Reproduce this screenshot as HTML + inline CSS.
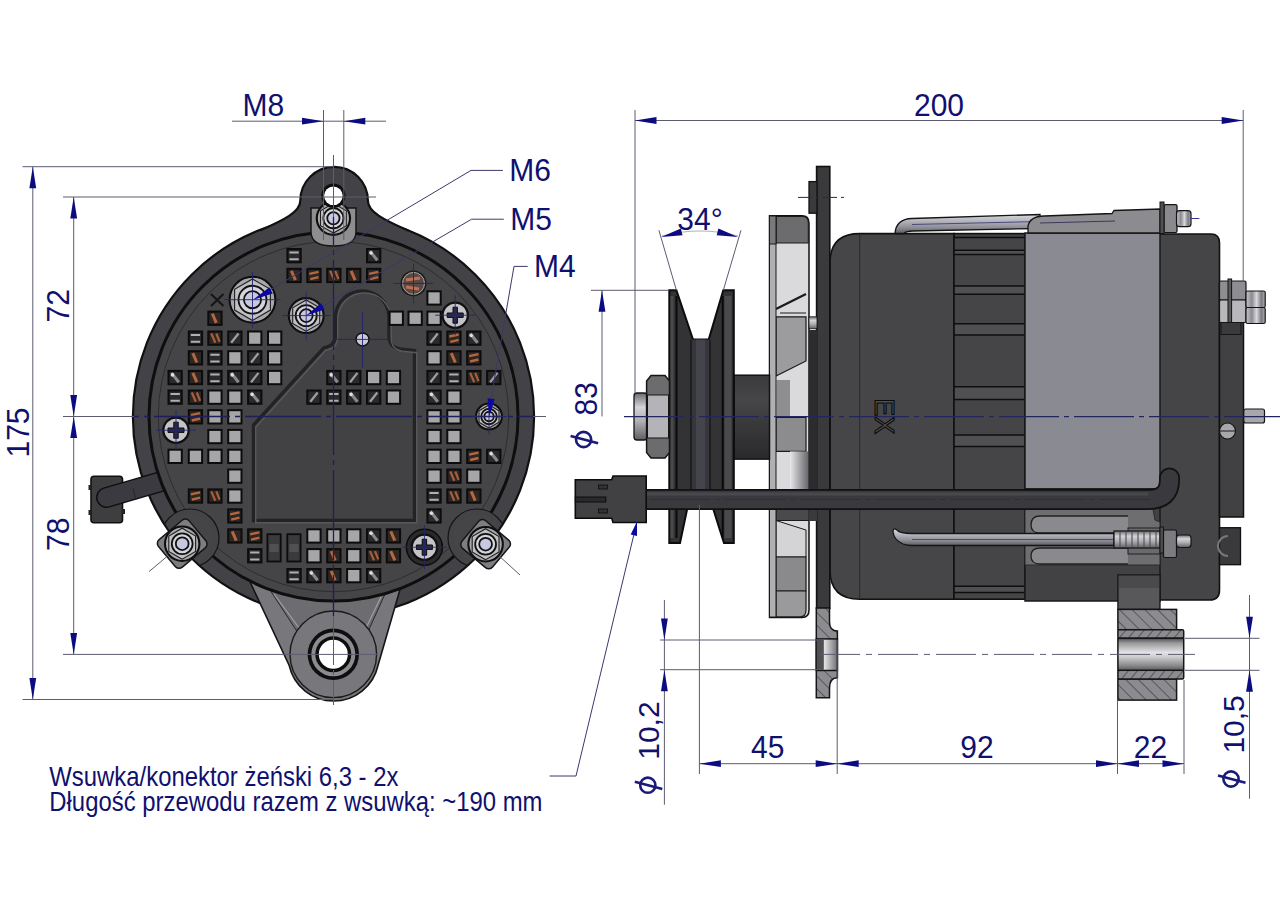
<!DOCTYPE html>
<html><head><meta charset="utf-8"><title>Alternator drawing</title>
<style>
html,body{margin:0;padding:0;background:#fff;}
body{width:1280px;height:905px;overflow:hidden;}
svg{display:block;font-family:"Liberation Sans",sans-serif;}
</style></head>
<body>
<svg width="1280" height="905" viewBox="0 0 1280 905">
<defs>
<clipPath id="discclip"><circle cx="333.5" cy="416.5" r="199.5"/></clipPath>
<pattern id="hatchA" patternUnits="userSpaceOnUse" width="9" height="9" patternTransform="rotate(-45)">
<rect width="9" height="9" fill="#8c8c90"/><line x1="0" y1="0" x2="0" y2="9" stroke="#333" stroke-width="1.2"/></pattern>
<pattern id="hatchB" patternUnits="userSpaceOnUse" width="7" height="7" patternTransform="rotate(40)">
<rect width="7" height="7" fill="#8c8c90"/><line x1="0" y1="0" x2="0" y2="7" stroke="#333" stroke-width="1.2"/></pattern>
<linearGradient id="bore" x1="0" y1="0" x2="0" y2="1">
<stop offset="0" stop-color="#505052"/><stop offset="0.15" stop-color="#9a9a9c"/><stop offset="0.45" stop-color="#e4e4e6"/>
<stop offset="0.6" stop-color="#c8c8ca"/><stop offset="0.85" stop-color="#8a8a8c"/><stop offset="1" stop-color="#5a5a5c"/></linearGradient>
<linearGradient id="rod" x1="0" y1="0" x2="0" y2="1">
<stop offset="0" stop-color="#d8d8de"/><stop offset="0.35" stop-color="#b4b4bc"/><stop offset="0.7" stop-color="#8c8c94"/><stop offset="1" stop-color="#5c5c62"/></linearGradient>
<linearGradient id="bolt" x1="0" y1="0" x2="0" y2="1">
<stop offset="0" stop-color="#6c6c70"/><stop offset="0.3" stop-color="#d4d4d8"/><stop offset="0.6" stop-color="#b0b0b4"/><stop offset="1" stop-color="#606064"/></linearGradient>
<linearGradient id="hub" x1="0" y1="0" x2="0" y2="1">
<stop offset="0" stop-color="#3a3a3c"/><stop offset="0.3" stop-color="#474749"/><stop offset="0.55" stop-color="#3a3a3c"/><stop offset="1" stop-color="#2a2a2c"/></linearGradient>
<linearGradient id="fanbar" x1="0" y1="0" x2="1" y2="0">
<stop offset="0" stop-color="#e8e8ea"/><stop offset="0.5" stop-color="#a8a8ac"/><stop offset="1" stop-color="#6a6a6e"/></linearGradient>
<linearGradient id="stud" x1="0" y1="0" x2="1" y2="0">
<stop offset="0" stop-color="#c8c8cc"/><stop offset="0.3" stop-color="#8a8a90"/><stop offset="0.55" stop-color="#d8d8dc"/><stop offset="0.8" stop-color="#7a7a80"/><stop offset="1" stop-color="#b0b0b4"/></linearGradient>
<linearGradient id="bore2" x1="0" y1="0" x2="1" y2="0">
<stop offset="0" stop-color="#a0a0a2"/><stop offset="0.4" stop-color="#e0e0e2"/><stop offset="1" stop-color="#707072"/></linearGradient>
</defs>
<rect x="0" y="0" width="1280" height="905" fill="#ffffff"/>
<circle cx="333.5" cy="416.5" r="200.6" fill="#434347" stroke="#111" stroke-width="2.2" />
<path d="M 260,230.5 C 284,220 300.3,212 300.3,200.7 A 33.8 33.8 0 0 1 367.9,200.7 C 367.9,212 384,220 408,230.5 L 380,250 L 288,250 Z" fill="#434347" stroke="none" stroke-width="1" />
<path d="M 260,230.5 C 284,220 300.3,212 300.3,200.7 A 33.8 33.8 0 0 1 367.9,200.7 C 367.9,212 384,220 408,230.5" fill="none" stroke="#111" stroke-width="2.2" />
<rect x="91" y="476.2" width="31.5" height="46.5" rx="3" fill="#3e3e40" stroke="#111" stroke-width="1.6" />
<rect x="88.5" y="485" width="3" height="5" rx="0" fill="#222" stroke="none" stroke-width="1" />
<rect x="88.5" y="510" width="3" height="5" rx="0" fill="#222" stroke="none" stroke-width="1" />
<rect x="122" y="509" width="3" height="5" rx="0" fill="#222" stroke="none" stroke-width="1" />
<path d="M 106.5,497.5 L 180,476" fill="none" stroke="#0e0e0e" stroke-width="21" stroke-linecap="round"/>
<path d="M 106.5,497.5 L 180,476" fill="none" stroke="#3a3a40" stroke-width="18" stroke-linecap="round"/>
<path d="M 133,488.5 L 136,500" fill="none" stroke="#222" stroke-width="0.8" />
<path d="M 250.4,582.7 L 289.2,665.5 A 45.5 45.5 0 0 0 378,665.5 L 399.6,590.9 L 399.6,560 L 250.4,560 Z" fill="#77777c" stroke="#151515" stroke-width="1.6" />
<path d="M 270,590 L 300,636 L 366,636 L 385,594 Z" fill="#6c6c71" stroke="#2a2a2a" stroke-width="1" />
<path d="M 274,594 L 302,632" fill="none" stroke="#a0a0a4" stroke-width="1.2" />
<path d="M 381,597 L 364,632" fill="none" stroke="#a0a0a4" stroke-width="1.2" />
<circle cx="333.3" cy="654.3" r="43.3" fill="#77777c" stroke="#1a1a1a" stroke-width="1.4" />
<circle cx="333.3" cy="654.3" r="25.7" fill="#0e0e0e" stroke="none" stroke-width="1" />
<circle cx="333.3" cy="654.3" r="22.0" fill="#8c8c90" stroke="none" stroke-width="1" />
<circle cx="333.3" cy="654.3" r="18.0" fill="#0e0e0e" stroke="none" stroke-width="1" />
<circle cx="333.3" cy="654.3" r="14.5" fill="#ffffff" stroke="none" stroke-width="1" />
<circle cx="333.5" cy="416.5" r="184.5" fill="#454547" stroke="#0e0e0e" stroke-width="3" />
<circle cx="333.5" cy="416.5" r="175.2" fill="none" stroke="#2a2a2c" stroke-width="0.9" />
<g clip-path="url(#discclip)">
<circle cx="190" cy="538" r="29" fill="#444448" stroke="#151515" stroke-width="1.2" />
<circle cx="190" cy="538" r="24" fill="#454547" stroke="none" stroke-width="1" />
<circle cx="477" cy="538" r="29" fill="#444448" stroke="#151515" stroke-width="1.2" />
<circle cx="477" cy="538" r="24" fill="#454547" stroke="none" stroke-width="1" />
</g>
<path d="M 253.5,520.5 L 253.5,425 L 323.6,348 Q 335.5,346 335.5,335 L 335.5,316 A 26.8 26.8 0 0 1 389,316 L 389,336 Q 389,347 400,349 L 414.5,350.5 L 414.5,520.5 Z" fill="#424244" stroke="#232325" stroke-width="3.4" />
<path d="M 253.5,520.5 L 253.5,425 L 323.6,348 Q 335.5,346 335.5,335 L 335.5,316 A 26.8 26.8 0 0 1 389,316 L 389,336 Q 389,347 400,349 L 414.5,350.5 L 414.5,520.5 Z" fill="none" stroke="#58585c" stroke-width="1.4" transform="translate(2.2,2.2)"/>
<circle cx="362.5" cy="339.4" r="6.5" fill="#c8c8d8" stroke="#111" stroke-width="1.5" />
<rect x="287.4" y="249.0" width="13.3" height="13.3" rx="0" fill="#2a2a2c" stroke="#0c0c0c" stroke-width="2" />
<path d="M 289.4,252.5 L 298.7,252.5 M 289.4,259.3 L 298.7,259.3" stroke="#b0b0b2" stroke-width="2"/>
<rect x="367.0" y="249.0" width="13.3" height="13.3" rx="0" fill="#2a2a2c" stroke="#0c0c0c" stroke-width="2" />
<path d="M 370.0,251.0 L 377.3,260.3" stroke="#8a8a8c" stroke-width="3"/>
<circle cx="371.0" cy="253.0" r="1.8" fill="#e0e0e0"/>
<rect x="287.4" y="268.8" width="13.3" height="13.3" rx="0" fill="#2c2624" stroke="#0c0c0c" stroke-width="2" />
<path d="M 291.4,270.8 L 295.4,280.1" stroke="#b4683f" stroke-width="3"/>
<rect x="307.3" y="268.8" width="13.3" height="13.3" rx="0" fill="#2c2624" stroke="#0c0c0c" stroke-width="2" />
<path d="M 309.3,273.8 L 318.6,271.8 M 310.3,279.1 L 318.6,277.1" stroke="#b4683f" stroke-width="2.4"/>
<rect x="327.2" y="268.8" width="13.3" height="13.3" rx="0" fill="#2c2624" stroke="#0c0c0c" stroke-width="2" />
<path d="M 330.2,270.8 L 334.2,280.1 M 335.2,270.8 L 338.5,279.1" stroke="#a8603c" stroke-width="2.2"/>
<rect x="347.1" y="268.8" width="13.3" height="13.3" rx="0" fill="#2c2624" stroke="#0c0c0c" stroke-width="2" />
<path d="M 351.1,270.8 L 355.1,280.1" stroke="#b4683f" stroke-width="3"/>
<rect x="367.0" y="268.8" width="13.3" height="13.3" rx="0" fill="#2c2624" stroke="#0c0c0c" stroke-width="2" />
<path d="M 369.0,273.8 L 378.3,271.8 M 370.0,279.1 L 378.3,277.1" stroke="#b4683f" stroke-width="2.4"/>
<rect x="427.4" y="291.3" width="13.3" height="13.3" rx="0" fill="#a6a6a8" stroke="#0c0c0c" stroke-width="2" />
<rect x="208.3" y="311.6" width="13.3" height="13.3" rx="0" fill="#2c2624" stroke="#0c0c0c" stroke-width="2" />
<path d="M 212.3,313.6 L 216.3,322.90000000000003" stroke="#b4683f" stroke-width="3"/>
<rect x="389.6" y="311.6" width="13.3" height="13.3" rx="0" fill="#a6a6a8" stroke="#0c0c0c" stroke-width="2" />
<rect x="408.5" y="311.6" width="13.3" height="13.3" rx="0" fill="#a6a6a8" stroke="#0c0c0c" stroke-width="2" />
<rect x="427.4" y="311.6" width="13.3" height="13.3" rx="0" fill="#a6a6a8" stroke="#0c0c0c" stroke-width="2" />
<rect x="188.8" y="331.5" width="13.3" height="13.3" rx="0" fill="#2a2a2c" stroke="#0c0c0c" stroke-width="2" />
<path d="M 190.8,335.0 L 200.10000000000002,335.0 M 190.8,341.8 L 200.10000000000002,341.8" stroke="#b0b0b2" stroke-width="2"/>
<rect x="208.3" y="331.5" width="13.3" height="13.3" rx="0" fill="#2c2624" stroke="#0c0c0c" stroke-width="2" />
<path d="M 211.3,333.5 L 215.3,342.8 M 216.3,333.5 L 219.60000000000002,341.8" stroke="#a8603c" stroke-width="2.2"/>
<rect x="228.2" y="331.5" width="13.3" height="13.3" rx="0" fill="#2a2a2c" stroke="#0c0c0c" stroke-width="2" />
<path d="M 231.2,342.8 L 238.5,333.5" stroke="#a0a0a2" stroke-width="2.2"/>
<rect x="248.1" y="331.5" width="13.3" height="13.3" rx="0" fill="#a6a6a8" stroke="#0c0c0c" stroke-width="2" />
<rect x="268.0" y="331.5" width="13.3" height="13.3" rx="0" fill="#a6a6a8" stroke="#0c0c0c" stroke-width="2" />
<rect x="427.4" y="331.5" width="13.3" height="13.3" rx="0" fill="#2a2a2c" stroke="#0c0c0c" stroke-width="2" />
<path d="M 430.4,342.8 L 437.7,333.5" stroke="#a0a0a2" stroke-width="2.2"/>
<rect x="447.3" y="331.5" width="13.3" height="13.3" rx="0" fill="#2c2624" stroke="#0c0c0c" stroke-width="2" />
<path d="M 449.3,336.5 L 458.6,334.5 M 450.3,341.8 L 458.6,339.8" stroke="#b4683f" stroke-width="2.4"/>
<rect x="467.2" y="331.5" width="13.3" height="13.3" rx="0" fill="#2a2a2c" stroke="#0c0c0c" stroke-width="2" />
<path d="M 470.2,333.5 L 477.5,342.8" stroke="#8a8a8c" stroke-width="3"/>
<circle cx="471.2" cy="335.5" r="1.8" fill="#e0e0e0"/>
<rect x="188.8" y="351.2" width="13.3" height="13.3" rx="0" fill="#2c2624" stroke="#0c0c0c" stroke-width="2" />
<path d="M 192.8,353.2 L 196.8,362.5" stroke="#b4683f" stroke-width="3"/>
<rect x="208.3" y="351.2" width="13.3" height="13.3" rx="0" fill="#2a2a2c" stroke="#0c0c0c" stroke-width="2" />
<path d="M 210.3,354.7 L 219.60000000000002,354.7 M 210.3,361.5 L 219.60000000000002,361.5" stroke="#b0b0b2" stroke-width="2"/>
<rect x="228.2" y="351.2" width="13.3" height="13.3" rx="0" fill="#a6a6a8" stroke="#0c0c0c" stroke-width="2" />
<rect x="248.1" y="351.2" width="13.3" height="13.3" rx="0" fill="#2a2a2c" stroke="#0c0c0c" stroke-width="2" />
<path d="M 251.1,362.5 L 258.4,353.2" stroke="#a0a0a2" stroke-width="2.2"/>
<rect x="268.0" y="351.2" width="13.3" height="13.3" rx="0" fill="#a6a6a8" stroke="#0c0c0c" stroke-width="2" />
<rect x="427.4" y="351.2" width="13.3" height="13.3" rx="0" fill="#a6a6a8" stroke="#0c0c0c" stroke-width="2" />
<rect x="447.3" y="351.2" width="13.3" height="13.3" rx="0" fill="#2c2624" stroke="#0c0c0c" stroke-width="2" />
<path d="M 451.3,353.2 L 455.3,362.5" stroke="#b4683f" stroke-width="3"/>
<rect x="467.2" y="351.2" width="13.3" height="13.3" rx="0" fill="#2c2624" stroke="#0c0c0c" stroke-width="2" />
<path d="M 469.2,356.2 L 478.5,354.2 M 470.2,361.5 L 478.5,359.5" stroke="#b4683f" stroke-width="2.4"/>
<rect x="168.5" y="370.9" width="13.3" height="13.3" rx="0" fill="#2a2a2c" stroke="#0c0c0c" stroke-width="2" />
<path d="M 171.5,372.9 L 178.8,382.2" stroke="#8a8a8c" stroke-width="3"/>
<circle cx="172.5" cy="374.9" r="1.8" fill="#e0e0e0"/>
<rect x="188.8" y="370.9" width="13.3" height="13.3" rx="0" fill="#2c2624" stroke="#0c0c0c" stroke-width="2" />
<path d="M 192.8,372.9 L 196.8,382.2" stroke="#b4683f" stroke-width="3"/>
<rect x="208.3" y="370.9" width="13.3" height="13.3" rx="0" fill="#2a2a2c" stroke="#0c0c0c" stroke-width="2" />
<path d="M 210.3,374.4 L 219.60000000000002,374.4 M 210.3,381.2 L 219.60000000000002,381.2" stroke="#b0b0b2" stroke-width="2"/>
<rect x="228.2" y="370.9" width="13.3" height="13.3" rx="0" fill="#2a2a2c" stroke="#0c0c0c" stroke-width="2" />
<path d="M 231.2,372.9 L 238.5,382.2" stroke="#8a8a8c" stroke-width="3"/>
<circle cx="232.2" cy="374.9" r="1.8" fill="#e0e0e0"/>
<rect x="248.1" y="370.9" width="13.3" height="13.3" rx="0" fill="#2a2a2c" stroke="#0c0c0c" stroke-width="2" />
<path d="M 251.1,382.2 L 258.4,372.9" stroke="#a0a0a2" stroke-width="2.2"/>
<rect x="268.0" y="370.9" width="13.3" height="13.3" rx="0" fill="#a6a6a8" stroke="#0c0c0c" stroke-width="2" />
<rect x="327.2" y="370.9" width="13.3" height="13.3" rx="0" fill="#2a2a2c" stroke="#0c0c0c" stroke-width="2" />
<path d="M 330.2,372.9 L 337.5,382.2" stroke="#8a8a8c" stroke-width="3"/>
<circle cx="331.2" cy="374.9" r="1.8" fill="#e0e0e0"/>
<rect x="347.1" y="370.9" width="13.3" height="13.3" rx="0" fill="#2a2a2c" stroke="#0c0c0c" stroke-width="2" />
<path d="M 350.1,382.2 L 357.40000000000003,372.9" stroke="#a0a0a2" stroke-width="2.2"/>
<rect x="367.0" y="370.9" width="13.3" height="13.3" rx="0" fill="#a6a6a8" stroke="#0c0c0c" stroke-width="2" />
<rect x="386.8" y="370.9" width="13.3" height="13.3" rx="0" fill="#a6a6a8" stroke="#0c0c0c" stroke-width="2" />
<rect x="427.4" y="370.9" width="13.3" height="13.3" rx="0" fill="#2a2a2c" stroke="#0c0c0c" stroke-width="2" />
<path d="M 430.4,382.2 L 437.7,372.9" stroke="#a0a0a2" stroke-width="2.2"/>
<rect x="447.3" y="370.9" width="13.3" height="13.3" rx="0" fill="#2a2a2c" stroke="#0c0c0c" stroke-width="2" />
<path d="M 449.3,374.4 L 458.6,374.4 M 449.3,381.2 L 458.6,381.2" stroke="#b0b0b2" stroke-width="2"/>
<rect x="467.2" y="370.9" width="13.3" height="13.3" rx="0" fill="#2c2624" stroke="#0c0c0c" stroke-width="2" />
<path d="M 470.2,372.9 L 474.2,382.2 M 475.2,372.9 L 478.5,381.2" stroke="#a8603c" stroke-width="2.2"/>
<rect x="487.1" y="370.9" width="13.3" height="13.3" rx="0" fill="#2a2a2c" stroke="#0c0c0c" stroke-width="2" />
<path d="M 490.1,382.2 L 497.40000000000003,372.9" stroke="#a0a0a2" stroke-width="2.2"/>
<rect x="168.5" y="390.5" width="13.3" height="13.3" rx="0" fill="#2a2a2c" stroke="#0c0c0c" stroke-width="2" />
<path d="M 170.5,394.0 L 179.8,394.0 M 170.5,400.8 L 179.8,400.8" stroke="#b0b0b2" stroke-width="2"/>
<rect x="188.8" y="390.5" width="13.3" height="13.3" rx="0" fill="#2c2624" stroke="#0c0c0c" stroke-width="2" />
<path d="M 191.8,392.5 L 195.8,401.8 M 196.8,392.5 L 200.10000000000002,400.8" stroke="#a8603c" stroke-width="2.2"/>
<rect x="208.3" y="390.5" width="13.3" height="13.3" rx="0" fill="#a6a6a8" stroke="#0c0c0c" stroke-width="2" />
<rect x="228.2" y="390.5" width="13.3" height="13.3" rx="0" fill="#a6a6a8" stroke="#0c0c0c" stroke-width="2" />
<rect x="248.1" y="390.5" width="13.3" height="13.3" rx="0" fill="#2a2a2c" stroke="#0c0c0c" stroke-width="2" />
<path d="M 251.1,392.5 L 258.4,401.8" stroke="#8a8a8c" stroke-width="3"/>
<circle cx="252.1" cy="394.5" r="1.8" fill="#e0e0e0"/>
<rect x="307.3" y="390.5" width="13.3" height="13.3" rx="0" fill="#2a2a2c" stroke="#0c0c0c" stroke-width="2" />
<path d="M 310.3,401.8 L 317.6,392.5" stroke="#a0a0a2" stroke-width="2.2"/>
<rect x="327.2" y="390.5" width="13.3" height="13.3" rx="0" fill="#2a2a2c" stroke="#0c0c0c" stroke-width="2" />
<path d="M 329.2,394.0 L 338.5,394.0 M 329.2,400.8 L 338.5,400.8" stroke="#b0b0b2" stroke-width="2"/>
<rect x="347.1" y="390.5" width="13.3" height="13.3" rx="0" fill="#2a2a2c" stroke="#0c0c0c" stroke-width="2" />
<path d="M 350.1,392.5 L 357.40000000000003,401.8" stroke="#8a8a8c" stroke-width="3"/>
<circle cx="351.1" cy="394.5" r="1.8" fill="#e0e0e0"/>
<rect x="367.0" y="390.5" width="13.3" height="13.3" rx="0" fill="#2a2a2c" stroke="#0c0c0c" stroke-width="2" />
<path d="M 370.0,401.8 L 377.3,392.5" stroke="#a0a0a2" stroke-width="2.2"/>
<rect x="386.8" y="390.5" width="13.3" height="13.3" rx="0" fill="#a6a6a8" stroke="#0c0c0c" stroke-width="2" />
<rect x="427.4" y="390.5" width="13.3" height="13.3" rx="0" fill="#2a2a2c" stroke="#0c0c0c" stroke-width="2" />
<path d="M 430.4,392.5 L 437.7,401.8" stroke="#8a8a8c" stroke-width="3"/>
<circle cx="431.4" cy="394.5" r="1.8" fill="#e0e0e0"/>
<rect x="447.3" y="390.5" width="13.3" height="13.3" rx="0" fill="#a6a6a8" stroke="#0c0c0c" stroke-width="2" />
<rect x="188.8" y="410.2" width="13.3" height="13.3" rx="0" fill="#2c2624" stroke="#0c0c0c" stroke-width="2" />
<path d="M 190.8,415.2 L 200.10000000000002,413.2 M 191.8,420.5 L 200.10000000000002,418.5" stroke="#b4683f" stroke-width="2.4"/>
<rect x="208.3" y="410.2" width="13.3" height="13.3" rx="0" fill="#a6a6a8" stroke="#0c0c0c" stroke-width="2" />
<rect x="228.2" y="410.2" width="13.3" height="13.3" rx="0" fill="#a6a6a8" stroke="#0c0c0c" stroke-width="2" />
<rect x="427.4" y="410.2" width="13.3" height="13.3" rx="0" fill="#a6a6a8" stroke="#0c0c0c" stroke-width="2" />
<rect x="447.3" y="410.2" width="13.3" height="13.3" rx="0" fill="#a6a6a8" stroke="#0c0c0c" stroke-width="2" />
<rect x="208.3" y="429.9" width="13.3" height="13.3" rx="0" fill="#a6a6a8" stroke="#0c0c0c" stroke-width="2" />
<rect x="228.2" y="429.9" width="13.3" height="13.3" rx="0" fill="#a6a6a8" stroke="#0c0c0c" stroke-width="2" />
<rect x="427.4" y="429.9" width="13.3" height="13.3" rx="0" fill="#a6a6a8" stroke="#0c0c0c" stroke-width="2" />
<rect x="447.3" y="429.9" width="13.3" height="13.3" rx="0" fill="#a6a6a8" stroke="#0c0c0c" stroke-width="2" />
<rect x="168.5" y="449.7" width="13.3" height="13.3" rx="0" fill="#a6a6a8" stroke="#0c0c0c" stroke-width="2" />
<rect x="188.8" y="449.7" width="13.3" height="13.3" rx="0" fill="#a6a6a8" stroke="#0c0c0c" stroke-width="2" />
<rect x="208.3" y="449.7" width="13.3" height="13.3" rx="0" fill="#a6a6a8" stroke="#0c0c0c" stroke-width="2" />
<rect x="228.2" y="449.7" width="13.3" height="13.3" rx="0" fill="#a6a6a8" stroke="#0c0c0c" stroke-width="2" />
<rect x="427.4" y="449.7" width="13.3" height="13.3" rx="0" fill="#a6a6a8" stroke="#0c0c0c" stroke-width="2" />
<rect x="447.3" y="449.7" width="13.3" height="13.3" rx="0" fill="#a6a6a8" stroke="#0c0c0c" stroke-width="2" />
<rect x="467.2" y="449.7" width="13.3" height="13.3" rx="0" fill="#2c2624" stroke="#0c0c0c" stroke-width="2" />
<path d="M 469.2,454.7 L 478.5,452.7 M 470.2,460.0 L 478.5,458.0" stroke="#b4683f" stroke-width="2.4"/>
<rect x="487.1" y="449.7" width="13.3" height="13.3" rx="0" fill="#2a2a2c" stroke="#0c0c0c" stroke-width="2" />
<path d="M 490.1,451.7 L 497.40000000000003,461.0" stroke="#8a8a8c" stroke-width="3"/>
<circle cx="491.1" cy="453.7" r="1.8" fill="#e0e0e0"/>
<rect x="228.2" y="469.5" width="13.3" height="13.3" rx="0" fill="#a6a6a8" stroke="#0c0c0c" stroke-width="2" />
<rect x="427.4" y="469.5" width="13.3" height="13.3" rx="0" fill="#a6a6a8" stroke="#0c0c0c" stroke-width="2" />
<rect x="447.3" y="469.5" width="13.3" height="13.3" rx="0" fill="#2c2624" stroke="#0c0c0c" stroke-width="2" />
<path d="M 450.3,471.5 L 454.3,480.8 M 455.3,471.5 L 458.6,479.8" stroke="#a8603c" stroke-width="2.2"/>
<rect x="467.2" y="469.5" width="13.3" height="13.3" rx="0" fill="#a6a6a8" stroke="#0c0c0c" stroke-width="2" />
<rect x="188.8" y="489.4" width="13.3" height="13.3" rx="0" fill="#2c2624" stroke="#0c0c0c" stroke-width="2" />
<path d="M 190.8,494.4 L 200.10000000000002,492.4 M 191.8,499.7 L 200.10000000000002,497.7" stroke="#b4683f" stroke-width="2.4"/>
<rect x="208.3" y="489.4" width="13.3" height="13.3" rx="0" fill="#2c2624" stroke="#0c0c0c" stroke-width="2" />
<path d="M 211.3,491.4 L 215.3,500.7 M 216.3,491.4 L 219.60000000000002,499.7" stroke="#a8603c" stroke-width="2.2"/>
<rect x="228.2" y="489.4" width="13.3" height="13.3" rx="0" fill="#a6a6a8" stroke="#0c0c0c" stroke-width="2" />
<rect x="427.4" y="489.4" width="13.3" height="13.3" rx="0" fill="#2a2a2c" stroke="#0c0c0c" stroke-width="2" />
<path d="M 429.4,492.9 L 438.7,492.9 M 429.4,499.7 L 438.7,499.7" stroke="#b0b0b2" stroke-width="2"/>
<rect x="447.3" y="489.4" width="13.3" height="13.3" rx="0" fill="#2c2624" stroke="#0c0c0c" stroke-width="2" />
<path d="M 450.3,491.4 L 454.3,500.7 M 455.3,491.4 L 458.6,499.7" stroke="#a8603c" stroke-width="2.2"/>
<rect x="467.2" y="489.4" width="13.3" height="13.3" rx="0" fill="#2c2624" stroke="#0c0c0c" stroke-width="2" />
<path d="M 471.2,491.4 L 475.2,500.7" stroke="#b4683f" stroke-width="3"/>
<rect x="228.2" y="509.3" width="13.3" height="13.3" rx="0" fill="#2c2624" stroke="#0c0c0c" stroke-width="2" />
<path d="M 230.2,514.3 L 239.5,512.3 M 231.2,519.6 L 239.5,517.6" stroke="#b4683f" stroke-width="2.4"/>
<rect x="427.4" y="509.3" width="13.3" height="13.3" rx="0" fill="#2a2a2c" stroke="#0c0c0c" stroke-width="2" />
<path d="M 430.4,511.3 L 437.7,520.6" stroke="#8a8a8c" stroke-width="3"/>
<circle cx="431.4" cy="513.3" r="1.8" fill="#e0e0e0"/>
<rect x="228.2" y="529.3" width="13.3" height="13.3" rx="0" fill="#2c2624" stroke="#0c0c0c" stroke-width="2" />
<path d="M 232.2,531.3 L 236.2,540.5999999999999" stroke="#b4683f" stroke-width="3"/>
<rect x="248.1" y="529.3" width="13.3" height="13.3" rx="0" fill="#2c2624" stroke="#0c0c0c" stroke-width="2" />
<path d="M 250.1,534.3 L 259.4,532.3 M 251.1,539.5999999999999 L 259.4,537.5999999999999" stroke="#b4683f" stroke-width="2.4"/>
<rect x="307.3" y="529.3" width="13.3" height="13.3" rx="0" fill="#a6a6a8" stroke="#0c0c0c" stroke-width="2" />
<rect x="327.2" y="529.3" width="13.3" height="13.3" rx="0" fill="#a6a6a8" stroke="#0c0c0c" stroke-width="2" />
<rect x="347.1" y="529.3" width="13.3" height="13.3" rx="0" fill="#a6a6a8" stroke="#0c0c0c" stroke-width="2" />
<rect x="367.0" y="529.3" width="13.3" height="13.3" rx="0" fill="#2a2a2c" stroke="#0c0c0c" stroke-width="2" />
<path d="M 370.0,531.3 L 377.3,540.5999999999999" stroke="#8a8a8c" stroke-width="3"/>
<circle cx="371.0" cy="533.3" r="1.8" fill="#e0e0e0"/>
<rect x="386.8" y="529.3" width="13.3" height="13.3" rx="0" fill="#2c2624" stroke="#0c0c0c" stroke-width="2" />
<path d="M 390.8,531.3 L 394.8,540.5999999999999" stroke="#b4683f" stroke-width="3"/>
<rect x="248.1" y="549.1" width="13.3" height="13.3" rx="0" fill="#2a2a2c" stroke="#0c0c0c" stroke-width="2" />
<path d="M 250.1,552.6 L 259.4,552.6 M 250.1,559.4 L 259.4,559.4" stroke="#b0b0b2" stroke-width="2"/>
<rect x="307.3" y="549.1" width="13.3" height="13.3" rx="0" fill="#a6a6a8" stroke="#0c0c0c" stroke-width="2" />
<rect x="327.2" y="549.1" width="13.3" height="13.3" rx="0" fill="#2c2624" stroke="#0c0c0c" stroke-width="2" />
<path d="M 331.2,551.1 L 335.2,560.4" stroke="#b4683f" stroke-width="3"/>
<rect x="347.1" y="549.1" width="13.3" height="13.3" rx="0" fill="#a6a6a8" stroke="#0c0c0c" stroke-width="2" />
<rect x="367.0" y="549.1" width="13.3" height="13.3" rx="0" fill="#2c2624" stroke="#0c0c0c" stroke-width="2" />
<path d="M 370.0,551.1 L 374.0,560.4 M 375.0,551.1 L 378.3,559.4" stroke="#a8603c" stroke-width="2.2"/>
<rect x="386.8" y="549.1" width="13.3" height="13.3" rx="0" fill="#2c2624" stroke="#0c0c0c" stroke-width="2" />
<path d="M 390.8,551.1 L 394.8,560.4" stroke="#b4683f" stroke-width="3"/>
<rect x="287.4" y="569.0" width="13.3" height="13.3" rx="0" fill="#2a2a2c" stroke="#0c0c0c" stroke-width="2" />
<path d="M 289.4,572.5 L 298.7,572.5 M 289.4,579.3 L 298.7,579.3" stroke="#b0b0b2" stroke-width="2"/>
<rect x="307.3" y="569.0" width="13.3" height="13.3" rx="0" fill="#2a2a2c" stroke="#0c0c0c" stroke-width="2" />
<path d="M 310.3,571.0 L 317.6,580.3" stroke="#8a8a8c" stroke-width="3"/>
<circle cx="311.3" cy="573.0" r="1.8" fill="#e0e0e0"/>
<rect x="327.2" y="569.0" width="13.3" height="13.3" rx="0" fill="#2c2624" stroke="#0c0c0c" stroke-width="2" />
<path d="M 331.2,571.0 L 335.2,580.3" stroke="#b4683f" stroke-width="3"/>
<rect x="347.1" y="569.0" width="13.3" height="13.3" rx="0" fill="#a6a6a8" stroke="#0c0c0c" stroke-width="2" />
<rect x="367.0" y="569.0" width="13.3" height="13.3" rx="0" fill="#2a2a2c" stroke="#0c0c0c" stroke-width="2" />
<path d="M 370.0,571.0 L 377.3,580.3" stroke="#8a8a8c" stroke-width="3"/>
<circle cx="371.0" cy="573.0" r="1.8" fill="#e0e0e0"/>
<rect x="267.4" y="534.2" width="13.3" height="27.3" rx="0" fill="#3a3a3c" stroke="#0c0c0c" stroke-width="1.8" />
<rect x="269.4" y="544" width="9.3" height="8" rx="0" fill="#505052" stroke="none" stroke-width="1" />
<rect x="287.3" y="534.2" width="13.3" height="27.3" rx="0" fill="#3a3a3c" stroke="#0c0c0c" stroke-width="1.8" />
<rect x="289.3" y="544" width="9.3" height="8" rx="0" fill="#505052" stroke="none" stroke-width="1" />
<path d="M 211,294 L 223.5,306 M 223.5,294 L 211,306" stroke="#151515" stroke-width="2"/>
<path d="M 311,208 L 356,208 L 356,232 Q 356,246 333.5,246 Q 311,246 311,232 Z" fill="#8e8e90" stroke="#161616" stroke-width="1.5" />
<circle cx="333.4" cy="218.2" r="17.7" fill="#121212" stroke="none" stroke-width="1" />
<circle cx="333.4" cy="218.2" r="16.2" fill="#a8a8ac" stroke="#0c0c0c" stroke-width="1.2" />
<polygon points="333.4,233.1 320.5,225.7 320.5,210.7 333.4,203.3 346.3,210.7 346.3,225.7" fill="#c0c0c4" stroke="#202020" stroke-width="1.1"/>
<circle cx="333.4" cy="218.2" r="10.043999999999999" fill="#d4d4dc" stroke="#111" stroke-width="1.8" />
<circle cx="333.4" cy="218.2" r="6.156" fill="#c8c8e0" stroke="#111" stroke-width="1.8" />
<circle cx="333.4" cy="195.8" r="12.2" fill="#0e0e0e" stroke="none" stroke-width="1" />
<circle cx="333.4" cy="195.8" r="9.3" fill="#ffffff" stroke="none" stroke-width="1" />
<circle cx="252.5" cy="299.7" r="24.0" fill="#121212" stroke="none" stroke-width="1" />
<circle cx="252.5" cy="299.7" r="22.5" fill="#a8a8ac" stroke="#0c0c0c" stroke-width="1.2" />
<polygon points="252.5,320.4 234.6,310.1 234.6,289.3 252.5,279.0 270.4,289.3 270.4,310.1" fill="#c0c0c4" stroke="#202020" stroke-width="1.1"/>
<circle cx="252.5" cy="299.7" r="13.95" fill="#d4d4dc" stroke="#111" stroke-width="1.8" />
<circle cx="252.5" cy="299.7" r="8.55" fill="#c8c8e0" stroke="#111" stroke-width="1.8" />
<circle cx="306.2" cy="315.6" r="18.5" fill="#121212" stroke="none" stroke-width="1" />
<circle cx="306.2" cy="315.6" r="17" fill="#a8a8ac" stroke="#0c0c0c" stroke-width="1.2" />
<polygon points="306.2,331.2 292.7,323.4 292.7,307.8 306.2,300.0 319.7,307.8 319.7,323.4" fill="#c0c0c4" stroke="#202020" stroke-width="1.1"/>
<circle cx="306.2" cy="315.6" r="10.54" fill="#d4d4dc" stroke="#111" stroke-width="1.8" />
<circle cx="306.2" cy="315.6" r="6.46" fill="#c8c8e0" stroke="#111" stroke-width="1.8" />
<circle cx="489.0" cy="416.5" r="14.0" fill="#121212" stroke="none" stroke-width="1" />
<circle cx="489.0" cy="416.5" r="12.5" fill="#a8a8ac" stroke="#0c0c0c" stroke-width="1.2" />
<polygon points="489.0,428.0 479.0,422.2 479.0,410.8 489.0,405.0 499.0,410.8 499.0,422.2" fill="#c0c0c4" stroke="#202020" stroke-width="1.1"/>
<circle cx="489.0" cy="416.5" r="7.75" fill="#d4d4dc" stroke="#111" stroke-width="1.8" />
<circle cx="489.0" cy="416.5" r="4.75" fill="#c8c8e0" stroke="#111" stroke-width="1.8" />
<circle cx="413.5" cy="283.4" r="13" fill="#1a1a1a" stroke="none" stroke-width="1" />
<circle cx="413.5" cy="283.4" r="11" fill="#5a4a46" stroke="#aaaaaa" stroke-width="1" />
<path d="M 406,280 L 420,278 M 406,287 L 419,289" stroke="#c0704e" stroke-width="3"/>
<circle cx="176" cy="430.2" r="13.8" fill="#101010" stroke="none" stroke-width="1" />
<circle cx="176" cy="430.2" r="11.5" fill="#c4c4c8" stroke="none" stroke-width="1" />
<path d="M 173.8,422.2 h4.4 v5.8 h5.8 v4.4 h-5.8 v5.8 h-4.4 v-5.8 h-5.8 v-4.4 h5.8 Z" fill="#2a2a4a" stroke="#0a0a0a" stroke-width="1"/>
<circle cx="455.2" cy="315.2" r="13.8" fill="#101010" stroke="none" stroke-width="1" />
<circle cx="455.2" cy="315.2" r="11.5" fill="#c4c4c8" stroke="none" stroke-width="1" />
<path d="M 453.0,307.2 h4.4 v5.8 h5.8 v4.4 h-5.8 v5.8 h-4.4 v-5.8 h-5.8 v-4.4 h5.8 Z" fill="#2a2a4a" stroke="#0a0a0a" stroke-width="1"/>
<circle cx="424.4" cy="547.2" r="18" fill="#2a2a2c" stroke="#0c0c0c" stroke-width="1.5" />
<circle cx="424.4" cy="547.2" r="13.8" fill="#101010" stroke="none" stroke-width="1" />
<circle cx="424.4" cy="547.2" r="11.5" fill="#c4c4c8" stroke="none" stroke-width="1" />
<path d="M 422.2,539.2 h4.4 v5.8 h5.8 v4.4 h-5.8 v5.8 h-4.4 v-5.8 h-5.8 v-4.4 h5.8 Z" fill="#2a2a4a" stroke="#0a0a0a" stroke-width="1"/>
<g transform="rotate(-40 182.2 543.7)">
<rect x="162.2" y="525.7" width="40" height="36" rx="5" fill="#7e7e82" stroke="#161616" stroke-width="1.5" />
</g>
<circle cx="182.2" cy="543.7" r="18.3" fill="#121212" stroke="none" stroke-width="1" />
<circle cx="182.2" cy="543.7" r="16.8" fill="#a8a8ac" stroke="#0c0c0c" stroke-width="1.2" />
<polygon points="182.2,559.2 168.8,551.4 168.8,536.0 182.2,528.2 195.6,536.0 195.6,551.4" fill="#c0c0c4" stroke="#202020" stroke-width="1.1"/>
<circle cx="182.2" cy="543.7" r="10.416" fill="#d4d4dc" stroke="#111" stroke-width="1.8" />
<circle cx="182.2" cy="543.7" r="6.384" fill="#c8c8e0" stroke="#111" stroke-width="1.8" />
<g transform="rotate(40 485.6 544.2)">
<rect x="465.6" y="526.2" width="40" height="36" rx="5" fill="#7e7e82" stroke="#161616" stroke-width="1.5" />
</g>
<circle cx="485.6" cy="544.2" r="18.3" fill="#121212" stroke="none" stroke-width="1" />
<circle cx="485.6" cy="544.2" r="16.8" fill="#a8a8ac" stroke="#0c0c0c" stroke-width="1.2" />
<polygon points="485.6,559.7 472.2,551.9 472.2,536.5 485.6,528.7 499.0,536.5 499.0,551.9" fill="#c0c0c4" stroke="#202020" stroke-width="1.1"/>
<circle cx="485.6" cy="544.2" r="10.416" fill="#d4d4dc" stroke="#111" stroke-width="1.8" />
<circle cx="485.6" cy="544.2" r="6.384" fill="#c8c8e0" stroke="#111" stroke-width="1.8" />
<path d="M 1159,234 L 1211,234 Q 1219.5,234 1219.5,243 L 1219.5,590 Q 1219.5,600 1210,600 L 1159,600 Z" fill="#454547" stroke="#111" stroke-width="1.6" />
<rect x="1219.5" y="283" width="24" height="234" rx="0" fill="#414143" stroke="#111" stroke-width="1.5" />
<path d="M 859.7,233.6 L 954,233.6 L 954,599.2 L 859.7,599.2 Q 830,599.2 830,570 L 830,263 Q 830,233.6 859.7,233.6 Z" fill="#464648" stroke="#111" stroke-width="1.6" />
<line x1="859.7" y1="234" x2="859.7" y2="599" stroke="#2a2a2a" stroke-width="1" />
<rect x="954" y="233.6" width="71" height="365.6" rx="0" fill="#454547" stroke="#111" stroke-width="1.6" />
<rect x="955" y="250.2" width="69" height="4.200000000000017" rx="0" fill="#505052" stroke="none" stroke-width="1" />
<rect x="955" y="285.9" width="69" height="8.400000000000034" rx="0" fill="#505052" stroke="none" stroke-width="1" />
<rect x="955" y="323.7" width="69" height="11.400000000000034" rx="0" fill="#505052" stroke="none" stroke-width="1" />
<rect x="955" y="386.8" width="69" height="12.599999999999966" rx="0" fill="#505052" stroke="none" stroke-width="1" />
<rect x="955" y="435.1" width="69" height="11.299999999999955" rx="0" fill="#505052" stroke="none" stroke-width="1" />
<rect x="955" y="586.3" width="69" height="6.300000000000068" rx="0" fill="#505052" stroke="none" stroke-width="1" />
<line x1="954" y1="237.6" x2="1025" y2="237.6" stroke="#0e0e0e" stroke-width="1.5" />
<line x1="954" y1="250.2" x2="1025" y2="250.2" stroke="#0e0e0e" stroke-width="1.5" />
<line x1="954" y1="254.4" x2="1025" y2="254.4" stroke="#0e0e0e" stroke-width="1.5" />
<line x1="954" y1="285.9" x2="1025" y2="285.9" stroke="#0e0e0e" stroke-width="1.5" />
<line x1="954" y1="294.3" x2="1025" y2="294.3" stroke="#0e0e0e" stroke-width="1.5" />
<line x1="954" y1="323.7" x2="1025" y2="323.7" stroke="#0e0e0e" stroke-width="1.5" />
<line x1="954" y1="335.1" x2="1025" y2="335.1" stroke="#0e0e0e" stroke-width="1.5" />
<line x1="954" y1="386.8" x2="1025" y2="386.8" stroke="#0e0e0e" stroke-width="1.5" />
<line x1="954" y1="399.4" x2="1025" y2="399.4" stroke="#0e0e0e" stroke-width="1.5" />
<line x1="954" y1="435.1" x2="1025" y2="435.1" stroke="#0e0e0e" stroke-width="1.5" />
<line x1="954" y1="446.4" x2="1025" y2="446.4" stroke="#0e0e0e" stroke-width="1.5" />
<line x1="954" y1="586.3" x2="1025" y2="586.3" stroke="#0e0e0e" stroke-width="1.5" />
<line x1="954" y1="592.6" x2="1025" y2="592.6" stroke="#0e0e0e" stroke-width="1.5" />
<rect x="1025" y="233" width="135" height="256" rx="0" fill="#8a8b92" stroke="#1a1a1a" stroke-width="1.5" />
<rect x="1025" y="489" width="135" height="112" rx="0" fill="#424244" stroke="#1a1a1a" stroke-width="1.5" />
<path d="M 1025,509 L 1153,509 L 1155,520 L 1160,522 L 1160,565 L 1025,565 Z" fill="#6e6e70" stroke="#2a2a2a" stroke-width="1" />
<path d="M 1128,516 L 1040,516 Q 1031,516 1031,525 Q 1031,533 1040,533 L 1128,533" fill="#8a8a8e" stroke="#202020" stroke-width="1.3" />
<path d="M 1128,548 L 1040,548 Q 1031,548 1031,556 Q 1031,564 1040,564 L 1128,564" fill="#8a8a8e" stroke="#202020" stroke-width="1.3" />
<rect x="1128" y="528" width="32" height="8" rx="0" fill="#6a6a6c" stroke="#202020" stroke-width="1" />
<rect x="1128" y="546" width="32" height="8" rx="0" fill="#6a6a6c" stroke="#202020" stroke-width="1" />
<path d="M 895,233.5 Q 896,219 912,218.5 L 1040,214.5 L 1040,228.5 L 913,231 Q 906,231 904,233.5 Z" fill="url(#rod)" stroke="#151515" stroke-width="1.3" />
<line x1="912" y1="224.5" x2="1040" y2="221.5" stroke="#4a4a7a" stroke-width="1" />
<path d="M 1028,233 L 1028,226 Q 1030,216.5 1044,216 L 1112,213.5 L 1114,210.5 L 1160,209 L 1160,233 Z" fill="#8c8c90" stroke="#151515" stroke-width="1.3" />
<line x1="1040" y1="223" x2="1115" y2="221" stroke="#3a3a5a" stroke-width="1" />
<rect x="1164" y="204.6" width="13" height="28" rx="1.5" fill="#8a8a8e" stroke="#151515" stroke-width="1.3" />
<rect x="1160" y="202" width="4" height="31.5" rx="0" fill="#505052" stroke="#151515" stroke-width="1" />
<rect x="1176.5" y="210.7" width="14.5" height="16" rx="3" fill="url(#stud)" stroke="#151515" stroke-width="1.2" />
<line x1="1190" y1="218.5" x2="1199.4" y2="218.5" stroke="#3a3a8a" stroke-width="1" />
<rect x="1219.5" y="281" width="26.5" height="19" rx="1.5" fill="#8e8e92" stroke="#151515" stroke-width="1.2" />
<rect x="1219.5" y="300" width="26.5" height="22.5" rx="1.5" fill="#b8b8bc" stroke="#151515" stroke-width="1.2" />
<rect x="1246" y="291" width="19.2" height="16.5" rx="1.5" fill="url(#stud)" stroke="#151515" stroke-width="1.2" />
<rect x="1246" y="307.5" width="19.2" height="16" rx="1.5" fill="url(#stud)" stroke="#151515" stroke-width="1.2" />
<rect x="1228" y="279" width="3.6" height="52" rx="0" fill="#5a5a5c" stroke="#151515" stroke-width="1" />
<rect x="1221" y="322.5" width="20" height="12" rx="0" fill="#3a3a3c" stroke="#151515" stroke-width="1" />
<rect x="1243.8" y="409" width="20.7" height="14" rx="2" fill="#a8a8ac" stroke="#151515" stroke-width="1.2" />
<circle cx="1227.5" cy="431" r="8" fill="#a8a8ac" stroke="#151515" stroke-width="1.2" />
<line x1="1220" y1="431" x2="1235" y2="431" stroke="#333" stroke-width="1.2" />
<rect x="1219.5" y="527.7" width="21" height="37" rx="0" fill="#3a3a3c" stroke="#111" stroke-width="1.3" />
<path d="M 1228,536 A 9 9 0 1 0 1228,556" fill="none" stroke="#777" stroke-width="2" />
<rect x="816.6" y="166.5" width="13.2" height="442" rx="0" fill="#3a3a3c" stroke="#111" stroke-width="1.6" />
<rect x="809" y="181.6" width="8" height="31.6" rx="0" fill="#3a3a3c" stroke="#111" stroke-width="1.3" />
<path d="M 816.3,608 L 829.5,608 L 829.5,622 Q 829.5,631 837.4,631 L 837.4,677.7 Q 829.5,677.7 829.5,688 L 829.5,697.8 L 816.3,697.8 Z" fill="url(#hatchA)" stroke="#151515" stroke-width="1.5" />
<rect x="816.3" y="638.9" width="21.1" height="31.6" rx="0" fill="url(#bore2)" stroke="#151515" stroke-width="1.5" />
<rect x="816.8" y="639.5" width="7" height="30.4" rx="0" fill="#505054" stroke="none" stroke-width="1" />
<path d="M 769.5,215.8 L 802,215.8 Q 809,215.8 809,223 L 809,610 Q 809,617.5 802,617.5 L 769.5,617.5 Z" fill="#dadadc" stroke="#111" stroke-width="1.5" />
<path d="M 776,216.5 L 802,216.5 Q 808.3,216.5 808.3,223 L 808.3,243 L 776,243 Z" fill="#6c6c6e" stroke="#1a1a1a" stroke-width="1" />
<path d="M 776,309 L 806,294" fill="none" stroke="#1a1a1a" stroke-width="2.2" />
<path d="M 776,316.8 L 806,316.8 L 806,361 L 776,376 Z" fill="#9c9c9e" stroke="#1a1a1a" stroke-width="1.2" />
<path d="M 780,313 L 806,313" fill="none" stroke="#3a3a3a" stroke-width="1.2" />
<rect x="776.5" y="380" width="13.5" height="37" rx="0" fill="#8e8e90" stroke="none" stroke-width="1" />
<path d="M 776,417.3 L 806,417.3 L 806,451.4 L 776,451.4 Z" fill="#8c8c8e" stroke="#1a1a1a" stroke-width="1.2" />
<rect x="790" y="451.4" width="18" height="38" rx="0" fill="url(#fanbar)" stroke="none" stroke-width="1" />
<rect x="776" y="509.5" width="33" height="11" rx="0" fill="#4a4a4c" stroke="#1a1a1a" stroke-width="1" />
<path d="M 776,520.5 L 806,530 L 806,557 L 776,557 Z" fill="#d4d4d6" stroke="#1a1a1a" stroke-width="1" />
<path d="M 776,557 L 806,557 L 806,591 L 776,591 Z" fill="#8a8a8c" stroke="#1a1a1a" stroke-width="1.2" />
<path d="M 776,591 L 806,591 L 806,610 Q 806,616.8 800,616.8 L 776,616.8 Z" fill="#9a9a9c" stroke="#1a1a1a" stroke-width="1.2" />
<rect x="769.5" y="216" width="6.5" height="401" rx="0" fill="#b0b0b2" stroke="#1a1a1a" stroke-width="1" />
<rect x="769.5" y="216" width="6.5" height="28" rx="0" fill="#7a7a7c" stroke="#1a1a1a" stroke-width="1" />
<rect x="809" y="316.8" width="8" height="12" rx="0" fill="url(#bolt)" stroke="#151515" stroke-width="0.8" />
<rect x="809" y="330" width="8" height="160" rx="0" fill="#2c2c2e" stroke="none" stroke-width="1" />
<rect x="809" y="509" width="8" height="12" rx="0" fill="#3a3a3c" stroke="none" stroke-width="1" />
<rect x="734.2" y="375.2" width="35.3" height="83.9" rx="0" fill="url(#hub)" stroke="#111" stroke-width="1.5" />
<path d="M 669.3,290.3 L 676.4,290.3 L 693,339.6 L 708.7,339.6 L 723.3,290.3 L 733.8,290.3 L 733.8,543 L 724,543 L 712,505 L 688,505 L 680,543 L 669.3,543 Z" fill="#333335" stroke="#0c0c0c" stroke-width="2" />
<rect x="670.5" y="296" width="3" height="242" rx="0" fill="#4a4a4c" stroke="none" stroke-width="1" />
<rect x="724.5" y="296" width="7" height="242" rx="0" fill="#4a4a4c" stroke="none" stroke-width="1" />
<rect x="691" y="339.6" width="19" height="166" rx="0" fill="#36363c" stroke="none" stroke-width="1" />
<rect x="696" y="339.6" width="9" height="166" rx="0" fill="#44444c" stroke="none" stroke-width="1" />
<line x1="691" y1="340" x2="691" y2="505" stroke="#111" stroke-width="1.2" />
<line x1="710" y1="340" x2="710" y2="505" stroke="#111" stroke-width="1.2" />
<line x1="676.5" y1="296" x2="676.5" y2="538" stroke="#0a0a0a" stroke-width="2" />
<line x1="722.7" y1="296" x2="722.7" y2="538" stroke="#0a0a0a" stroke-width="2" />
<rect x="634" y="393" width="13" height="47" rx="3" fill="url(#bolt)" stroke="#151515" stroke-width="1.3" />
<path d="M 651,375.5 L 665,375.5 L 669.5,381 L 669.5,452.5 L 665,458 L 651,458 L 646.6,452.5 L 646.6,381 Z" fill="#6c6c6e" stroke="#151515" stroke-width="1.5" />
<rect x="647.5" y="395" width="21" height="43" rx="0" fill="#b4b4b8" stroke="#151515" stroke-width="1" />
<path d="M 646,499.5 L 1148,499.5 Q 1169.5,499.5 1169.5,480 L 1169.5,478" fill="none" stroke="#111" stroke-width="21" stroke-linecap="round"/>
<path d="M 646,499.5 L 1148,499.5 Q 1169.5,499.5 1169.5,480 L 1169.5,478" fill="none" stroke="#3a3a3e" stroke-width="17.5" stroke-linecap="round"/>
<path d="M 646,494 L 1148,494" fill="none" stroke="#48484e" stroke-width="3" />
<line x1="575" y1="499.5" x2="1150" y2="499.5" stroke="#2a2a60" stroke-width="1.1" stroke-dasharray="60,5,5,5"/>
<path d="M 575.3,479.8 L 611.7,479.8 L 613,476 L 646.2,476 L 646.2,522.5 L 613,522.5 L 611.7,518.2 L 575.3,518.2 Z" fill="#414143" stroke="#0c0c0c" stroke-width="1.6" />
<rect x="575.3" y="497" width="30.5" height="5" rx="0" fill="#2a2a2c" stroke="#0c0c0c" stroke-width="1" />
<rect x="598.5" y="485" width="9" height="4" rx="0" fill="#333" stroke="#0c0c0c" stroke-width="0.8" />
<rect x="598.5" y="509" width="9" height="4" rx="0" fill="#333" stroke="#0c0c0c" stroke-width="0.8" />
<path d="M 912,545.5 L 1114,545.5 L 1114,533.5 L 912,533.5 Q 900,533.5 897,530 Q 893,527 893,532 Q 894,540 903,544 Q 907,545.5 912,545.5 Z" fill="url(#rod)" stroke="#151515" stroke-width="1.3" />
<line x1="912" y1="539.5" x2="1114" y2="539.5" stroke="#4a4a7a" stroke-width="1" />
<rect x="1114" y="531" width="46" height="17" rx="0" fill="url(#bolt)" stroke="#151515" stroke-width="1.2" />
<line x1="1120" y1="532" x2="1120" y2="547" stroke="#55555a" stroke-width="1.2" />
<line x1="1126" y1="532" x2="1126" y2="547" stroke="#55555a" stroke-width="1.2" />
<line x1="1132" y1="532" x2="1132" y2="547" stroke="#55555a" stroke-width="1.2" />
<line x1="1138" y1="532" x2="1138" y2="547" stroke="#55555a" stroke-width="1.2" />
<line x1="1144" y1="532" x2="1144" y2="547" stroke="#55555a" stroke-width="1.2" />
<line x1="1150" y1="532" x2="1150" y2="547" stroke="#55555a" stroke-width="1.2" />
<line x1="1156" y1="532" x2="1156" y2="547" stroke="#55555a" stroke-width="1.2" />
<rect x="1160" y="527" width="3.5" height="26" rx="0" fill="#505052" stroke="#151515" stroke-width="1" />
<rect x="1163.5" y="530" width="13" height="27.5" rx="1.5" fill="#7c7c80" stroke="#151515" stroke-width="1.2" />
<rect x="1176.5" y="535" width="14.5" height="12.5" rx="3" fill="url(#bolt)" stroke="#151515" stroke-width="1.2" />
<rect x="1117.9" y="574.9" width="42.1" height="34.5" rx="0" fill="#58585a" stroke="#151515" stroke-width="1.3" />
<rect x="1119" y="576" width="40" height="12" rx="0" fill="#4a4a4c" stroke="none" stroke-width="1" />
<rect x="1117.9" y="609.4" width="58.7" height="20.3" rx="0" fill="url(#hatchA)" stroke="#151515" stroke-width="1.5" />
<rect x="1117.9" y="679" width="58.7" height="21.1" rx="0" fill="url(#hatchA)" stroke="#151515" stroke-width="1.5" />
<rect x="1117.9" y="629.7" width="65.8" height="8.6" rx="1.5" fill="url(#hatchB)" stroke="#151515" stroke-width="1.5" />
<rect x="1117.9" y="670.3" width="65.8" height="8.7" rx="1.5" fill="url(#hatchB)" stroke="#151515" stroke-width="1.5" />
<rect x="1117.9" y="638.3" width="65.8" height="32" rx="0" fill="url(#bore)" stroke="#151515" stroke-width="1.5" />
<text x="0" y="0" font-size="27" fill="#505052" text-anchor="start" transform="translate(874.6 398.3) rotate(90) scale(1 1.0)" stroke="#0a0a0a" stroke-width="1.1">EX</text>
<line x1="232" y1="121.2" x2="386" y2="121.2" stroke="#5c5c70" stroke-width="1" />
<line x1="323.5" y1="110" x2="323.5" y2="240" stroke="#5c5c70" stroke-width="1" />
<line x1="343.8" y1="110" x2="343.8" y2="240" stroke="#5c5c70" stroke-width="1" />
<polygon points="323.5,121.2 302.0,124.6 302.0,117.8" fill="#0c0c80"/>
<polygon points="343.8,121.2 365.3,117.8 365.3,124.6" fill="#0c0c80"/>
<line x1="22.5" y1="166.7" x2="333" y2="166.7" stroke="#5c5c70" stroke-width="1" />
<line x1="63" y1="197" x2="376" y2="197" stroke="#5c5c70" stroke-width="1" />
<line x1="32.8" y1="166.7" x2="32.8" y2="699.5" stroke="#5c5c70" stroke-width="1" />
<line x1="73.7" y1="197" x2="73.7" y2="654.4" stroke="#5c5c70" stroke-width="1" />
<polygon points="32.8,166.7 36.2,188.2 29.4,188.2" fill="#0c0c80"/>
<polygon points="32.8,699.5 29.4,678.0 36.2,678.0" fill="#0c0c80"/>
<polygon points="73.7,197.0 77.1,218.5 70.3,218.5" fill="#0c0c80"/>
<polygon points="73.7,654.4 70.3,632.9 77.1,632.9" fill="#0c0c80"/>
<polygon points="73.7,416.5 70.3,395.0 77.1,395.0" fill="#0c0c80"/>
<polygon points="73.7,416.5 77.1,438.0 70.3,438.0" fill="#0c0c80"/>
<line x1="63" y1="416.5" x2="546" y2="416.5" stroke="#5c5c70" stroke-width="1" stroke-dasharray="76,5,5,5"/>
<line x1="333.5" y1="155" x2="333.5" y2="705" stroke="#5c5c70" stroke-width="1" stroke-dasharray="90,5,5,5"/>
<g clip-path="url(#discclip)">
<line x1="63" y1="416.5" x2="546" y2="416.5" stroke="#1e1e5a" stroke-width="1.3" stroke-dasharray="76,5,5,5"/>
<line x1="333.5" y1="155" x2="333.5" y2="705" stroke="#1e1e5a" stroke-width="1.3" stroke-dasharray="90,5,5,5"/>
</g>
<line x1="166.9" y1="556.6" x2="149" y2="571.6" stroke="#5c5c70" stroke-width="1" />
<line x1="499.8" y1="556.6" x2="520" y2="575" stroke="#5c5c70" stroke-width="1" />
<line x1="63" y1="654.4" x2="378" y2="654.4" stroke="#5c5c70" stroke-width="1" />
<line x1="22.5" y1="699.5" x2="333" y2="699.5" stroke="#5c5c70" stroke-width="1" />
<line x1="156" y1="430.2" x2="196" y2="430.2" stroke="#24246a" stroke-width="0.9" />
<line x1="176" y1="410.2" x2="176" y2="450.2" stroke="#24246a" stroke-width="0.9" />
<line x1="435.2" y1="315.2" x2="475.2" y2="315.2" stroke="#24246a" stroke-width="0.9" />
<line x1="455.2" y1="295.2" x2="455.2" y2="335.2" stroke="#24246a" stroke-width="0.9" />
<line x1="402.4" y1="547.2" x2="446.4" y2="547.2" stroke="#24246a" stroke-width="0.9" />
<line x1="424.4" y1="525.2" x2="424.4" y2="569.2" stroke="#24246a" stroke-width="0.9" />
<line x1="393.5" y1="283.4" x2="433.5" y2="283.4" stroke="#24246a" stroke-width="0.9" />
<line x1="413.5" y1="263.4" x2="413.5" y2="303.4" stroke="#24246a" stroke-width="0.9" />
<line x1="334.5" y1="339.4" x2="390.5" y2="339.4" stroke="#24246a" stroke-width="0.9" />
<line x1="362.5" y1="311.4" x2="362.5" y2="367.4" stroke="#24246a" stroke-width="0.9" />
<line x1="224.5" y1="299.7" x2="280.5" y2="299.7" stroke="#24246a" stroke-width="0.9" />
<line x1="252.5" y1="271.7" x2="252.5" y2="327.7" stroke="#24246a" stroke-width="0.9" />
<line x1="282.2" y1="315.6" x2="330.2" y2="315.6" stroke="#24246a" stroke-width="0.9" />
<line x1="306.2" y1="291.6" x2="306.2" y2="339.6" stroke="#24246a" stroke-width="0.9" />
<line x1="471.0" y1="416.5" x2="507.0" y2="416.5" stroke="#24246a" stroke-width="0.9" />
<line x1="489.0" y1="398.5" x2="489.0" y2="434.5" stroke="#24246a" stroke-width="0.9" />
<line x1="471" y1="170.4" x2="502.9" y2="170.4" stroke="#3a3a6a" stroke-width="1" />
<line x1="471" y1="170.4" x2="270" y2="290" stroke="#3a3a6a" stroke-width="1" />
<line x1="471.6" y1="219.2" x2="503.8" y2="219.2" stroke="#3a3a6a" stroke-width="1" />
<line x1="471.6" y1="219.2" x2="323" y2="306" stroke="#3a3a6a" stroke-width="1" />
<line x1="514" y1="266.4" x2="527.7" y2="266.4" stroke="#3a3a6a" stroke-width="1" />
<line x1="514" y1="266.4" x2="491" y2="399" stroke="#3a3a6a" stroke-width="1" />
<polygon points="253.3,299.6 269.4,287.2 272.7,293.6" fill="#0a0aa0"/>
<polygon points="306.2,315.6 321.1,303.3 324.6,309.6" fill="#0a0aa0"/>
<polygon points="489.3,416.5 487.5,398.2 494.7,398.9" fill="#0a0aa0"/>
<text x="0" y="0" font-size="30" fill="#10106e" text-anchor="start" transform="translate(242.6 116) scale(1 1.06)" >M8</text>
<text x="0" y="0" font-size="30" fill="#10106e" text-anchor="start" transform="translate(509.3 181) scale(1 1.06)" >M6</text>
<text x="0" y="0" font-size="30" fill="#10106e" text-anchor="start" transform="translate(510.2 230) scale(1 1.06)" >M5</text>
<text x="0" y="0" font-size="30" fill="#10106e" text-anchor="start" transform="translate(534.1 277) scale(1 1.06)" >M4</text>
<text x="0" y="0" font-size="30" fill="#10106e" text-anchor="start" transform="translate(68.6 322.5) rotate(-90) scale(1 1.06)" >72</text>
<text x="0" y="0" font-size="30" fill="#10106e" text-anchor="start" transform="translate(29.4 457.5) rotate(-90) scale(1 1.06)" >175</text>
<text x="0" y="0" font-size="30" fill="#10106e" text-anchor="start" transform="translate(68.6 551) rotate(-90) scale(1 1.06)" >78</text>
<line x1="635" y1="110" x2="635" y2="393" stroke="#5c5c70" stroke-width="1" />
<line x1="1243.2" y1="110" x2="1243.2" y2="281" stroke="#5c5c70" stroke-width="1" />
<line x1="635" y1="120.5" x2="1243.2" y2="120.5" stroke="#5c5c70" stroke-width="1" />
<polygon points="635.0,120.5 656.5,117.1 656.5,123.9" fill="#0c0c80"/>
<polygon points="1243.2,120.5 1221.7,123.9 1221.7,117.1" fill="#0c0c80"/>
<text x="0" y="0" font-size="30" fill="#10106e" text-anchor="middle" transform="translate(939 116) scale(1 1.06)" >200</text>
<line x1="658.9" y1="230.2" x2="676.4" y2="290.3" stroke="#5c5c70" stroke-width="1" />
<line x1="741" y1="230.2" x2="723.3" y2="290.3" stroke="#5c5c70" stroke-width="1" />
<path d="M 662,236 Q 700,226 738,236" fill="none" stroke="#b0b0c8" stroke-width="1.2" />
<polygon points="661.3,237.0 680.8,228.6 682.5,235.2" fill="#0c0c80"/>
<polygon points="737.9,237.0 716.7,235.2 718.4,228.6" fill="#0c0c80"/>
<text x="0" y="0" font-size="30" fill="#10106e" text-anchor="middle" transform="translate(700 229.5) scale(1 1.06)" >34°</text>
<line x1="591" y1="290.3" x2="669" y2="290.3" stroke="#5c5c70" stroke-width="1" />
<line x1="602" y1="290.3" x2="602" y2="416.4" stroke="#5c5c70" stroke-width="1" />
<polygon points="602.0,290.3 605.4,311.8 598.6,311.8" fill="#0c0c80"/>
<text x="0" y="0" font-size="30" fill="#10106e" text-anchor="start" transform="translate(596.6 415.4) rotate(-90) scale(1 1.04)" >83</text>
<circle cx="583.6" cy="439.5" r="7.6" fill="none" stroke="#1a1a7c" stroke-width="2.6"/>
<line x1="570.6" y1="436.0" x2="598.1" y2="443.3" stroke="#1a1a7c" stroke-width="2.6"/>
<line x1="624" y1="416.6" x2="1280" y2="416.6" stroke="#25255e" stroke-width="1.2" stroke-dasharray="60,5,5,5"/>
<line x1="798" y1="197.4" x2="845" y2="197.4" stroke="#25255e" stroke-width="1" stroke-dasharray="14,4,3,4"/>
<line x1="820" y1="654.4" x2="1195" y2="654.4" stroke="#5c5c70" stroke-width="1" stroke-dasharray="40,6,6,6"/>
<line x1="660" y1="640" x2="817" y2="640" stroke="#5c5c70" stroke-width="1" />
<line x1="660" y1="669.7" x2="817" y2="669.7" stroke="#5c5c70" stroke-width="1" />
<line x1="664.4" y1="600" x2="664.4" y2="804.7" stroke="#5c5c70" stroke-width="1" />
<polygon points="664.4,640.0 661.0,618.5 667.8,618.5" fill="#0c0c80"/>
<polygon points="664.4,669.7 667.8,691.2 661.0,691.2" fill="#0c0c80"/>
<text x="0" y="0" font-size="30" fill="#10106e" text-anchor="start" transform="translate(658.8 759.8) rotate(-90) scale(1 1.0)" >10,2</text>
<circle cx="647.8" cy="785.2" r="7.6" fill="none" stroke="#1a1a7c" stroke-width="2.6"/>
<line x1="634.8" y1="781.7" x2="662.3" y2="789.0" stroke="#1a1a7c" stroke-width="2.6"/>
<line x1="1185" y1="638.3" x2="1259.5" y2="638.3" stroke="#5c5c70" stroke-width="1" />
<line x1="1185" y1="670.3" x2="1259.5" y2="670.3" stroke="#5c5c70" stroke-width="1" />
<line x1="1249.5" y1="595" x2="1249.5" y2="798.7" stroke="#5c5c70" stroke-width="1" />
<polygon points="1249.5,638.3 1246.1,616.8 1252.9,616.8" fill="#0c0c80"/>
<polygon points="1249.5,670.3 1252.9,691.8 1246.1,691.8" fill="#0c0c80"/>
<text x="0" y="0" font-size="30" fill="#10106e" text-anchor="start" transform="translate(1244 753.6) rotate(-90) scale(1 1.0)" >10,5</text>
<circle cx="1231" cy="779" r="7.6" fill="none" stroke="#1a1a7c" stroke-width="2.6"/>
<line x1="1218" y1="775.5" x2="1245.5" y2="782.8" stroke="#1a1a7c" stroke-width="2.6"/>
<line x1="699.4" y1="505" x2="699.4" y2="774" stroke="#5c5c70" stroke-width="1" />
<line x1="837.2" y1="640" x2="837.2" y2="774" stroke="#5c5c70" stroke-width="1" />
<line x1="1117.5" y1="700" x2="1117.5" y2="774" stroke="#5c5c70" stroke-width="1" />
<line x1="1184" y1="680" x2="1184" y2="774" stroke="#5c5c70" stroke-width="1" />
<line x1="699.4" y1="763.7" x2="1184" y2="763.7" stroke="#5c5c70" stroke-width="1" />
<polygon points="699.4,763.7 720.9,760.3 720.9,767.1" fill="#0c0c80"/>
<polygon points="837.2,763.7 815.7,767.1 815.7,760.3" fill="#0c0c80"/>
<polygon points="837.2,763.7 858.7,760.3 858.7,767.1" fill="#0c0c80"/>
<polygon points="1117.5,763.7 1096.0,767.1 1096.0,760.3" fill="#0c0c80"/>
<polygon points="1117.5,763.7 1139.0,760.3 1139.0,767.1" fill="#0c0c80"/>
<polygon points="1184.0,763.7 1162.5,767.1 1162.5,760.3" fill="#0c0c80"/>
<text x="0" y="0" font-size="30" fill="#10106e" text-anchor="middle" transform="translate(767.7 758) scale(1 1.06)" >45</text>
<text x="0" y="0" font-size="30" fill="#10106e" text-anchor="middle" transform="translate(977 758) scale(1 1.06)" >92</text>
<text x="0" y="0" font-size="30" fill="#10106e" text-anchor="middle" transform="translate(1150.5 758) scale(1 1.06)" >22</text>
<line x1="549.6" y1="776" x2="576" y2="776" stroke="#3a3a6a" stroke-width="1" />
<line x1="576" y1="776" x2="637" y2="521.6" stroke="#3a3a6a" stroke-width="1" />
<polygon points="637.0,521.6 637.0,536.0 630.7,534.5" fill="#0a0aa0"/>
<text x="0" y="0" font-size="23.9" fill="#10106e" text-anchor="start" transform="translate(49.3 786.2) scale(1 1.12)" >Wsuwka/konektor żeński 6,3 - 2x</text>
<text x="0" y="0" font-size="23.9" fill="#10106e" text-anchor="start" transform="translate(49.3 810.6) scale(1 1.12)" >Długość przewodu razem z wsuwką: ~190 mm</text>
</svg>
</body></html>
